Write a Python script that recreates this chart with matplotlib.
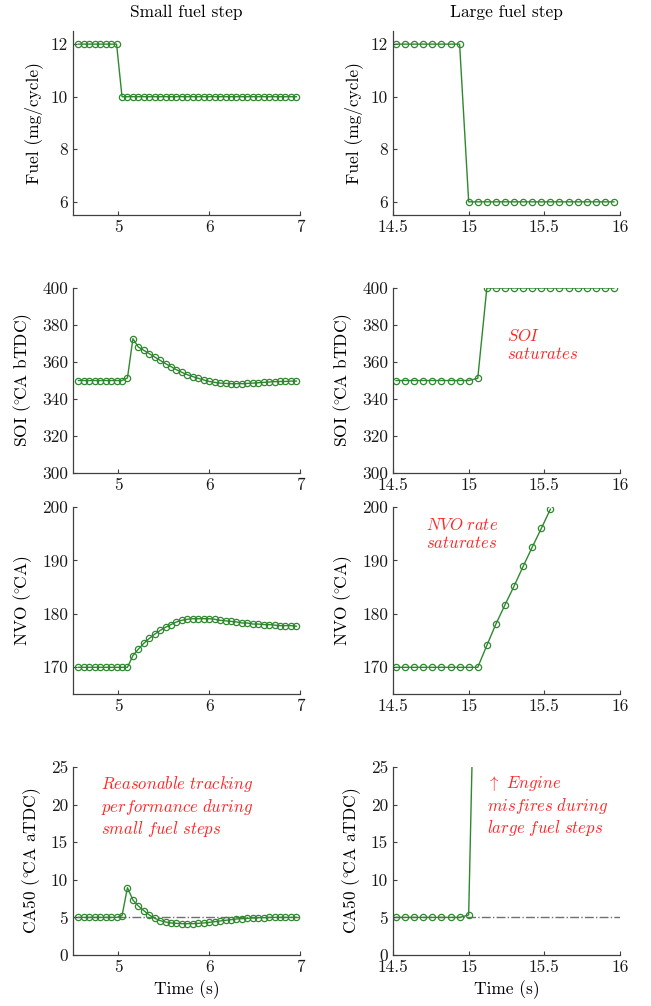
import numpy as np
import matplotlib
matplotlib.use("Agg")
import matplotlib.pyplot as plt
from matplotlib.ticker import FormatStrFormatter

plt.rcParams['font.family'] = ['cmr10', 'DejaVu Serif']
plt.rcParams['mathtext.fontset'] = 'cm'
plt.rcParams['axes.formatter.use_mathtext'] = True
plt.rcParams['axes.unicode_minus'] = False

# small fuel step (one point per engine cycle)
t_small = [4.56, 4.62, 4.68, 4.74, 4.80, 4.86, 4.92, 4.98, 5.04, 5.10,
           5.16, 5.22, 5.28, 5.34, 5.40, 5.46, 5.52, 5.58, 5.64, 5.70,
           5.76, 5.82, 5.88, 5.94, 6.00, 6.06, 6.12, 6.18, 6.24, 6.30,
           6.36, 6.42, 6.48, 6.54, 6.60, 6.66, 6.72, 6.78, 6.84, 6.90, 6.96]
fuel_small = [12] * 8 + [10] * 33
soi_small = [350] * 9 + [351.4, 372.6,
             368.1, 366.3, 364.5, 362.7, 360.9, 359.1, 357.5, 355.8, 354.4, 353.1,
             352.1, 351.2, 350.3, 349.5, 349.0, 348.6, 348.45, 348.3, 348.3, 348.3,
             348.45, 348.6, 348.8, 349.0, 349.2, 349.4, 349.5, 349.5, 349.7, 349.7]
nvo_small = [170] * 10 + [172.2, 173.4, 174.5, 175.4, 176.2, 176.9, 177.5, 178.0, 178.5, 178.8,
             179.0, 179.1, 179.1, 179.1, 179.1, 179.0, 178.8, 178.7, 178.6, 178.5,
             178.3, 178.3, 178.1, 178.1, 178.0, 178.0, 177.9, 177.8, 177.8, 177.8, 177.7]
ca50_small = [5.0] * 8 + [5.23, 8.95, 7.31, 6.52, 5.90, 5.32, 4.88, 4.57, 4.39, 4.26,
              4.21, 4.17, 4.17, 4.17, 4.21, 4.26, 4.34, 4.43, 4.52, 4.61,
              4.70, 4.79, 4.83, 4.88, 4.92, 4.96, 4.96] + [5.0] * 6

# large fuel step
t_large = [14.52, 14.58, 14.64, 14.70, 14.76, 14.82, 14.88, 14.94, 15.00, 15.06,
           15.12, 15.18, 15.24, 15.30, 15.36, 15.42, 15.48, 15.54, 15.60, 15.66,
           15.72, 15.78, 15.84, 15.90, 15.96]
fuel_large = [12] * 8 + [6] * 17
soi_large = [350] * 9 + [351.2] + [400] * 15
nvo_large = [170] * 10 + [174.1, 178.1, 181.7, 185.2, 188.9, 192.5, 196.0, 199.6]
ca50_large = [5.0] * 8 + [5.32, 60.0]
ca50_ref = 5

green = '#2f882f'
red = '#ff2626'
spine = '#404040'

fig = plt.figure(figsize=(6.51, 10.06), dpi=100)
lefts = [0.1121, 0.6037]
rows = [(0.7863, 0.1829), (0.5298, 0.1839), (0.3101, 0.1859), (0.0507, 0.1869)]
axs = [[fig.add_axes([l, b, 0.3487, h]) for l in lefts] for b, h in rows]

def line(ax, t, y):
    ax.plot(t[:len(y)], y, '-o', color=green, lw=1.0, ms=4.5, mfc='none', mew=0.9)

line(axs[0][0], t_small, fuel_small)
line(axs[0][1], t_large, fuel_large)
line(axs[1][0], t_small, soi_small)
line(axs[1][1], t_large, soi_large)
line(axs[2][0], t_small, nvo_small)
line(axs[2][1], t_large, nvo_large)
for ax in axs[3]:
    ax.axhline(ca50_ref, color='#707070', ls='-.', lw=1.0, zorder=1)
line(axs[3][0], t_small, ca50_small)
line(axs[3][1], t_large, ca50_large)

deg = r'$^{\circ}\!$'
ylabels = ['Fuel (mg/cycle)', 'SOI (' + deg + 'CA bTDC)', 'NVO (' + deg + 'CA)',
           'CA50 (' + deg + 'CA aTDC)']
ylims = [(5.5, 12.5), (300, 400), (165, 200), (0, 25)]
yticks = [[6, 8, 10, 12], [300, 320, 340, 360, 380, 400], [170, 180, 190, 200], [0, 5, 10, 15, 20, 25]]

for r in range(4):
    for c in range(2):
        ax = axs[r][c]
        ax.spines['top'].set_visible(False)
        ax.spines['right'].set_visible(False)
        for s in ['left', 'bottom']:
            ax.spines[s].set_color(spine)
            ax.spines[s].set_linewidth(0.9)
        ax.tick_params(direction='in', length=3, width=0.8, color=spine, labelsize=12.5,
                       labelcolor='#1a1a1a')
        ax.set_ylim(ylims[r])
        ax.set_yticks(yticks[r])
        ax.set_ylabel(ylabels[r], fontsize=12.5, labelpad=6)
        if c == 0:
            ax.set_xlim(4.5, 7)
            ax.set_xticks([5, 6, 7])
        else:
            ax.set_xlim(14.5, 16)
            ax.set_xticks([14.5, 15, 15.5, 16])
        ax.xaxis.set_major_formatter(FormatStrFormatter('%g'))
        ax.yaxis.set_major_formatter(FormatStrFormatter('%g'))

axs[0][0].set_title('Small fuel step', fontsize=12.5, pad=10)
axs[0][1].set_title('Large fuel step', fontsize=12.5, pad=10)
axs[3][0].set_xlabel('Time (s)', fontsize=12.5)
axs[3][1].set_xlabel('Time (s)', fontsize=12.5)

kw = dict(color=red, fontsize=12, ha='left', va='top', linespacing=1.15)
axs[1][1].text(15.25, 378.5, '$\\mathit{SOI}$\n$\\mathit{saturates}$', **kw)
axs[2][1].text(14.72, 198.2, '$\\mathit{NVO\\ rate}$\n$\\mathit{saturates}$', **kw)
axs[3][0].text(4.81, 24.0, '$\\mathit{Reasonable\\ tracking}$\n$\\mathit{performance\\ during}$\n'
               '$\\mathit{small\\ fuel\\ steps}$', **kw)
axs[3][1].text(15.12, 24.0, '$\\uparrow\\ \\mathit{Engine}$\n$\\mathit{misfires\\ during}$\n'
               '$\\mathit{large\\ fuel\\ steps}$', **kw)

fig.savefig('out.png', dpi=100)
